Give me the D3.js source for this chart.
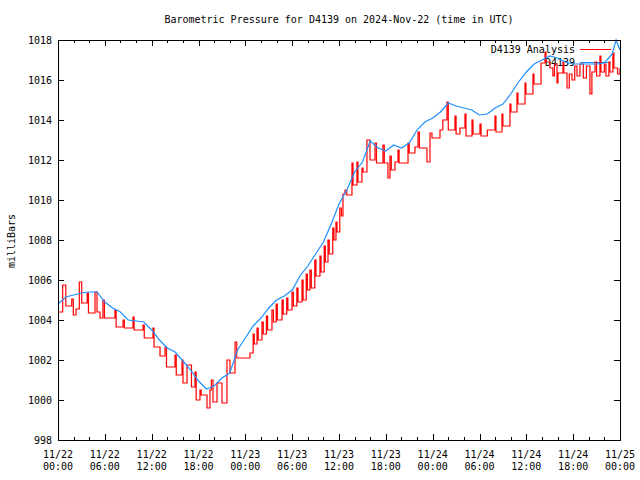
<!DOCTYPE html>
<html><head><meta charset="utf-8">
<script src="https://cdn.jsdelivr.net/npm/d3@7"></script>
<style>body{margin:0;background:#fff}svg{display:block}text{font-family:"DejaVu Sans Mono","Liberation Mono",monospace;font-size:10px;fill:#000}</style>
</head><body>
<svg id="c" width="640" height="480"></svg>
<script>
const titleText = "Barometric Pressure for D4139 on 2024-Nov-22 (time in UTC)";
const yLabel = "milliBars";
const xTickHours = [0,6,12,18,24,30,36,42,48,54,60,66,72];
const xTickLabels = [["11/22","00:00"],["11/22","06:00"],["11/22","12:00"],["11/22","18:00"],["11/23","00:00"],["11/23","06:00"],["11/23","12:00"],["11/23","18:00"],["11/24","00:00"],["11/24","06:00"],["11/24","12:00"],["11/24","18:00"],["11/25","00:00"]];
const yTicks = [998,1000,1002,1004,1006,1008,1010,1012,1014,1016,1018];
const seriesNames = ["D4139 Analysis","D4139"];

// D4139 (blue): hours since 11/22 00:00 UTC and pressure
const blueHours = [0,1,2,3,4,5,6,7,8,9,10,11,12,13,14,15,16,17,18,19,20,21,22,23,24,25,26,27,28,29,30,31,32,33,34,35,36,37,38,39,40,41,42,43,44,45,46,47,48,49,50,51,52,53,54,55,56,57,58,59,60,61,62,63,64,65,66,67,68,69,70,71,71.5,72];
const blueValues = [1004.8,1005.15,1005.25,1005.35,1005.4,1005.4,1004.9,1004.6,1004.4,1004.0,1003.95,1003.9,1003.5,1003.0,1002.6,1002.4,1001.95,1001.5,1000.95,1000.55,1000.7,1001.1,1001.35,1002.5,1003.1,1003.7,1004.1,1004.6,1005.0,1005.2,1005.5,1006.2,1006.7,1007.3,1007.9,1008.8,1009.8,1010.5,1011.4,1011.9,1012.95,1012.6,1012.45,1012.75,1012.6,1012.85,1013.5,1013.9,1014.1,1014.4,1014.85,1014.7,1014.6,1014.5,1014.25,1014.3,1014.6,1014.8,1015.3,1015.9,1016.4,1016.8,1017.0,1017.2,1017.1,1016.9,1016.8,1016.8,1016.8,1016.8,1016.85,1017.3,1018.0,1017.5];

// D4139 Analysis (red, stepped): hours and pressure
const redHours = [0,0.6,1.0,1.76,1.96,2.31,2.73,3.04,3.75,3.9,4.74,5.0,5.38,5.76,5.95,7.3,7.45,8.33,8.5,9.61,9.75,10.89,11.05,12.17,12.3,13.07,13.71,13.9,14.99,15.15,15.89,16.01,16.53,17.1,17.55,17.7,18.19,18.35,19.09,19.47,19.65,19.86,20.37,21.01,21.65,22.03,22.68,22.9,24.6,
25.0,25.15,25.5,25.65,26.13,26.3,26.7,26.85,27.41,27.6,27.95,28.1,28.7,28.85,29.3,29.45,29.98,30.15,30.6,30.75,31.26,31.4,31.8,31.95,32.28,32.45,32.9,33.05,33.56,33.7,34.1,34.25,34.59,34.75,35.2,35.35,35.61,35.75,36.1,36.3,
36.51,36.77,37.0,37.66,37.8,38.3,38.43,38.94,39.07,39.58,39.97,40.61,40.8,41.63,41.8,42.27,42.53,42.7,43.17,43.56,43.7,44.84,45.0,45.73,46.12,46.3,47.27,47.66,47.91,
48.94,49.3,49.83,50.0,50.86,51.0,51.5,52.14,52.27,53.04,53.17,54.06,54.2,55.0,55.98,56.11,56.88,57.0,57.9,58.03,58.8,58.93,59.83,59.95,60.85,60.98,61.88,62.39,62.52,
63.03,63.4,63.6,63.93,64.05,64.69,64.8,65.21,65.5,65.85,66.2,66.49,66.87,67.3,67.7,68.15,68.4,68.8,69.0,69.43,69.56,70.0,70.2,70.58,70.7,71.09,71.22,71.7,72];
const redValues = [1004.4,1005.75,1004.7,1005.05,1004.25,1004.55,1005.9,1004.85,1005.35,1004.35,1005.4,1004.4,1004.1,1005.0,1004.1,1004.5,1003.65,1004.0,1003.6,1004.15,1003.5,1003.75,1003.1,1003.6,1002.65,1002.2,1002.65,1001.65,1002.25,1001.25,1002.0,1000.85,1001.75,1000.65,1001.4,1000.0,1000.5,1000.25,999.6,1000.5,1001.0,999.9,1000.85,999.85,1002.0,1001.35,1002.9,1002.1,1002.35,
1003.3,1002.8,1003.6,1003.0,1003.9,1003.3,1004.2,1003.5,1004.5,1003.9,1004.8,1004.0,1005.0,1004.3,1005.1,1004.5,1005.4,1004.7,1005.6,1004.9,1006.0,1005.0,1006.3,1005.5,1006.5,1005.6,1007.0,1006.2,1007.2,1006.4,1007.7,1006.9,1008.0,1007.3,1008.6,1008.0,1008.9,1008.4,1009.6,1009.2,
1010.3,1010.5,1010.25,1011.85,1010.75,1011.9,1010.9,1011.6,1011.4,1013.0,1012.0,1012.85,1011.85,1012.75,1011.85,1011.1,1012.2,1011.5,1011.9,1012.5,1011.85,1012.85,1012.35,1012.65,1013.4,1012.6,1011.9,1013.35,1013.1,
1013.5,1014.0,1014.9,1013.5,1014.2,1013.3,1013.6,1014.3,1013.2,1014.0,1013.3,1013.8,1013.2,1013.5,1014.2,1013.4,1014.3,1013.7,1014.8,1014.4,1015.35,1014.8,1015.85,1015.3,1016.3,1015.8,1016.85,1017.4,1016.9,
1016.6,1016.2,1016.8,1015.85,1016.35,1016.9,1016.35,1015.6,1016.3,1016.0,1016.7,1016.2,1016.8,1016.1,1016.7,1015.3,1016.4,1016.9,1016.2,1017.2,1016.4,1016.8,1016.2,1016.9,1016.4,1017.35,1016.6,1016.3,1016.6];

const svg = d3.select("#c");
const L = 58, R = 620, T = 40, B = 440;
const x = d3.scaleLinear().domain([0,72]).range([L,R]);
const y = d3.scaleLinear().domain([998,1018]).range([B,T]);

// title & y label
svg.append("text").attr("x",(L+R)/2).attr("y",23).attr("text-anchor","middle").text(titleText);
svg.append("text").attr("transform","translate(15,241) rotate(-90)").attr("text-anchor","middle").text(yLabel);

// axes (ticks inward, mirrored)
function styleAxis(g){ g.select(".domain").remove(); g.selectAll("line").attr("stroke","#000").attr("shape-rendering","crispEdges"); }
const minorHours = d3.range(0,73,2);
svg.append("g").attr("transform",`translate(0,${B})`).call(d3.axisBottom(x).tickValues(minorHours).tickSize(-3).tickFormat("")).call(styleAxis);
svg.append("g").attr("transform",`translate(0,${T})`).call(d3.axisTop(x).tickValues(minorHours).tickSize(-3).tickFormat("")).call(styleAxis);
svg.append("g").attr("transform",`translate(0,${B})`).call(d3.axisBottom(x).tickValues(xTickHours).tickSize(-6).tickFormat("")).call(styleAxis);
svg.append("g").attr("transform",`translate(0,${T})`).call(d3.axisTop(x).tickValues(xTickHours).tickSize(-6).tickFormat("")).call(styleAxis);
svg.append("g").attr("transform",`translate(${L},0)`).call(d3.axisLeft(y).tickValues(yTicks).tickSize(-6).tickFormat("")).call(styleAxis);
svg.append("g").attr("transform",`translate(${R},0)`).call(d3.axisRight(y).tickValues(yTicks).tickSize(-6).tickFormat("")).call(styleAxis);

// tick labels
yTicks.forEach(v=>{
  svg.append("text").attr("x",L-6).attr("y",y(v)+4).attr("text-anchor","end").text(v);
});
xTickHours.forEach((h,i)=>{
  const t = svg.append("text").attr("text-anchor","middle");
  t.append("tspan").attr("x",x(h)).attr("y",458).text(xTickLabels[i][0]);
  t.append("tspan").attr("x",x(h)).attr("y",470).text(xTickLabels[i][1]);
});

// legend
svg.append("text").attr("x",575).attr("y",53).attr("text-anchor","end").text(seriesNames[0]);
svg.append("line").attr("x1",580).attr("x2",611).attr("y1",49.5).attr("y2",49.5).attr("stroke","#ff0000");
svg.append("text").attr("x",575).attr("y",66).attr("text-anchor","end").text(seriesNames[1]);
svg.append("line").attr("x1",580).attr("x2",611).attr("y1",62.5).attr("y2",62.5).attr("stroke","#1e8fff");

// data
const redData = redHours.map((h,i)=>[h, redValues[i]]);
const blueData = blueHours.map((h,i)=>[h, blueValues[i]]);
svg.append("path").datum(redData).attr("fill","none").attr("stroke","#ff0000").attr("stroke-width",1.2)
  .attr("d", d3.line().x(d=>x(d[0])).y(d=>y(d[1])).curve(d3.curveStepAfter));
svg.append("path").datum(blueData).attr("fill","none").attr("stroke","#1e8fff").attr("stroke-width",1.2)
  .attr("d", d3.line().x(d=>x(d[0])).y(d=>y(d[1])));

// border
svg.append("rect").attr("x",L+0.5).attr("y",T+0.5).attr("width",R-L).attr("height",B-T)
  .attr("fill","none").attr("stroke","#000").attr("shape-rendering","crispEdges");
</script>
</body></html>
